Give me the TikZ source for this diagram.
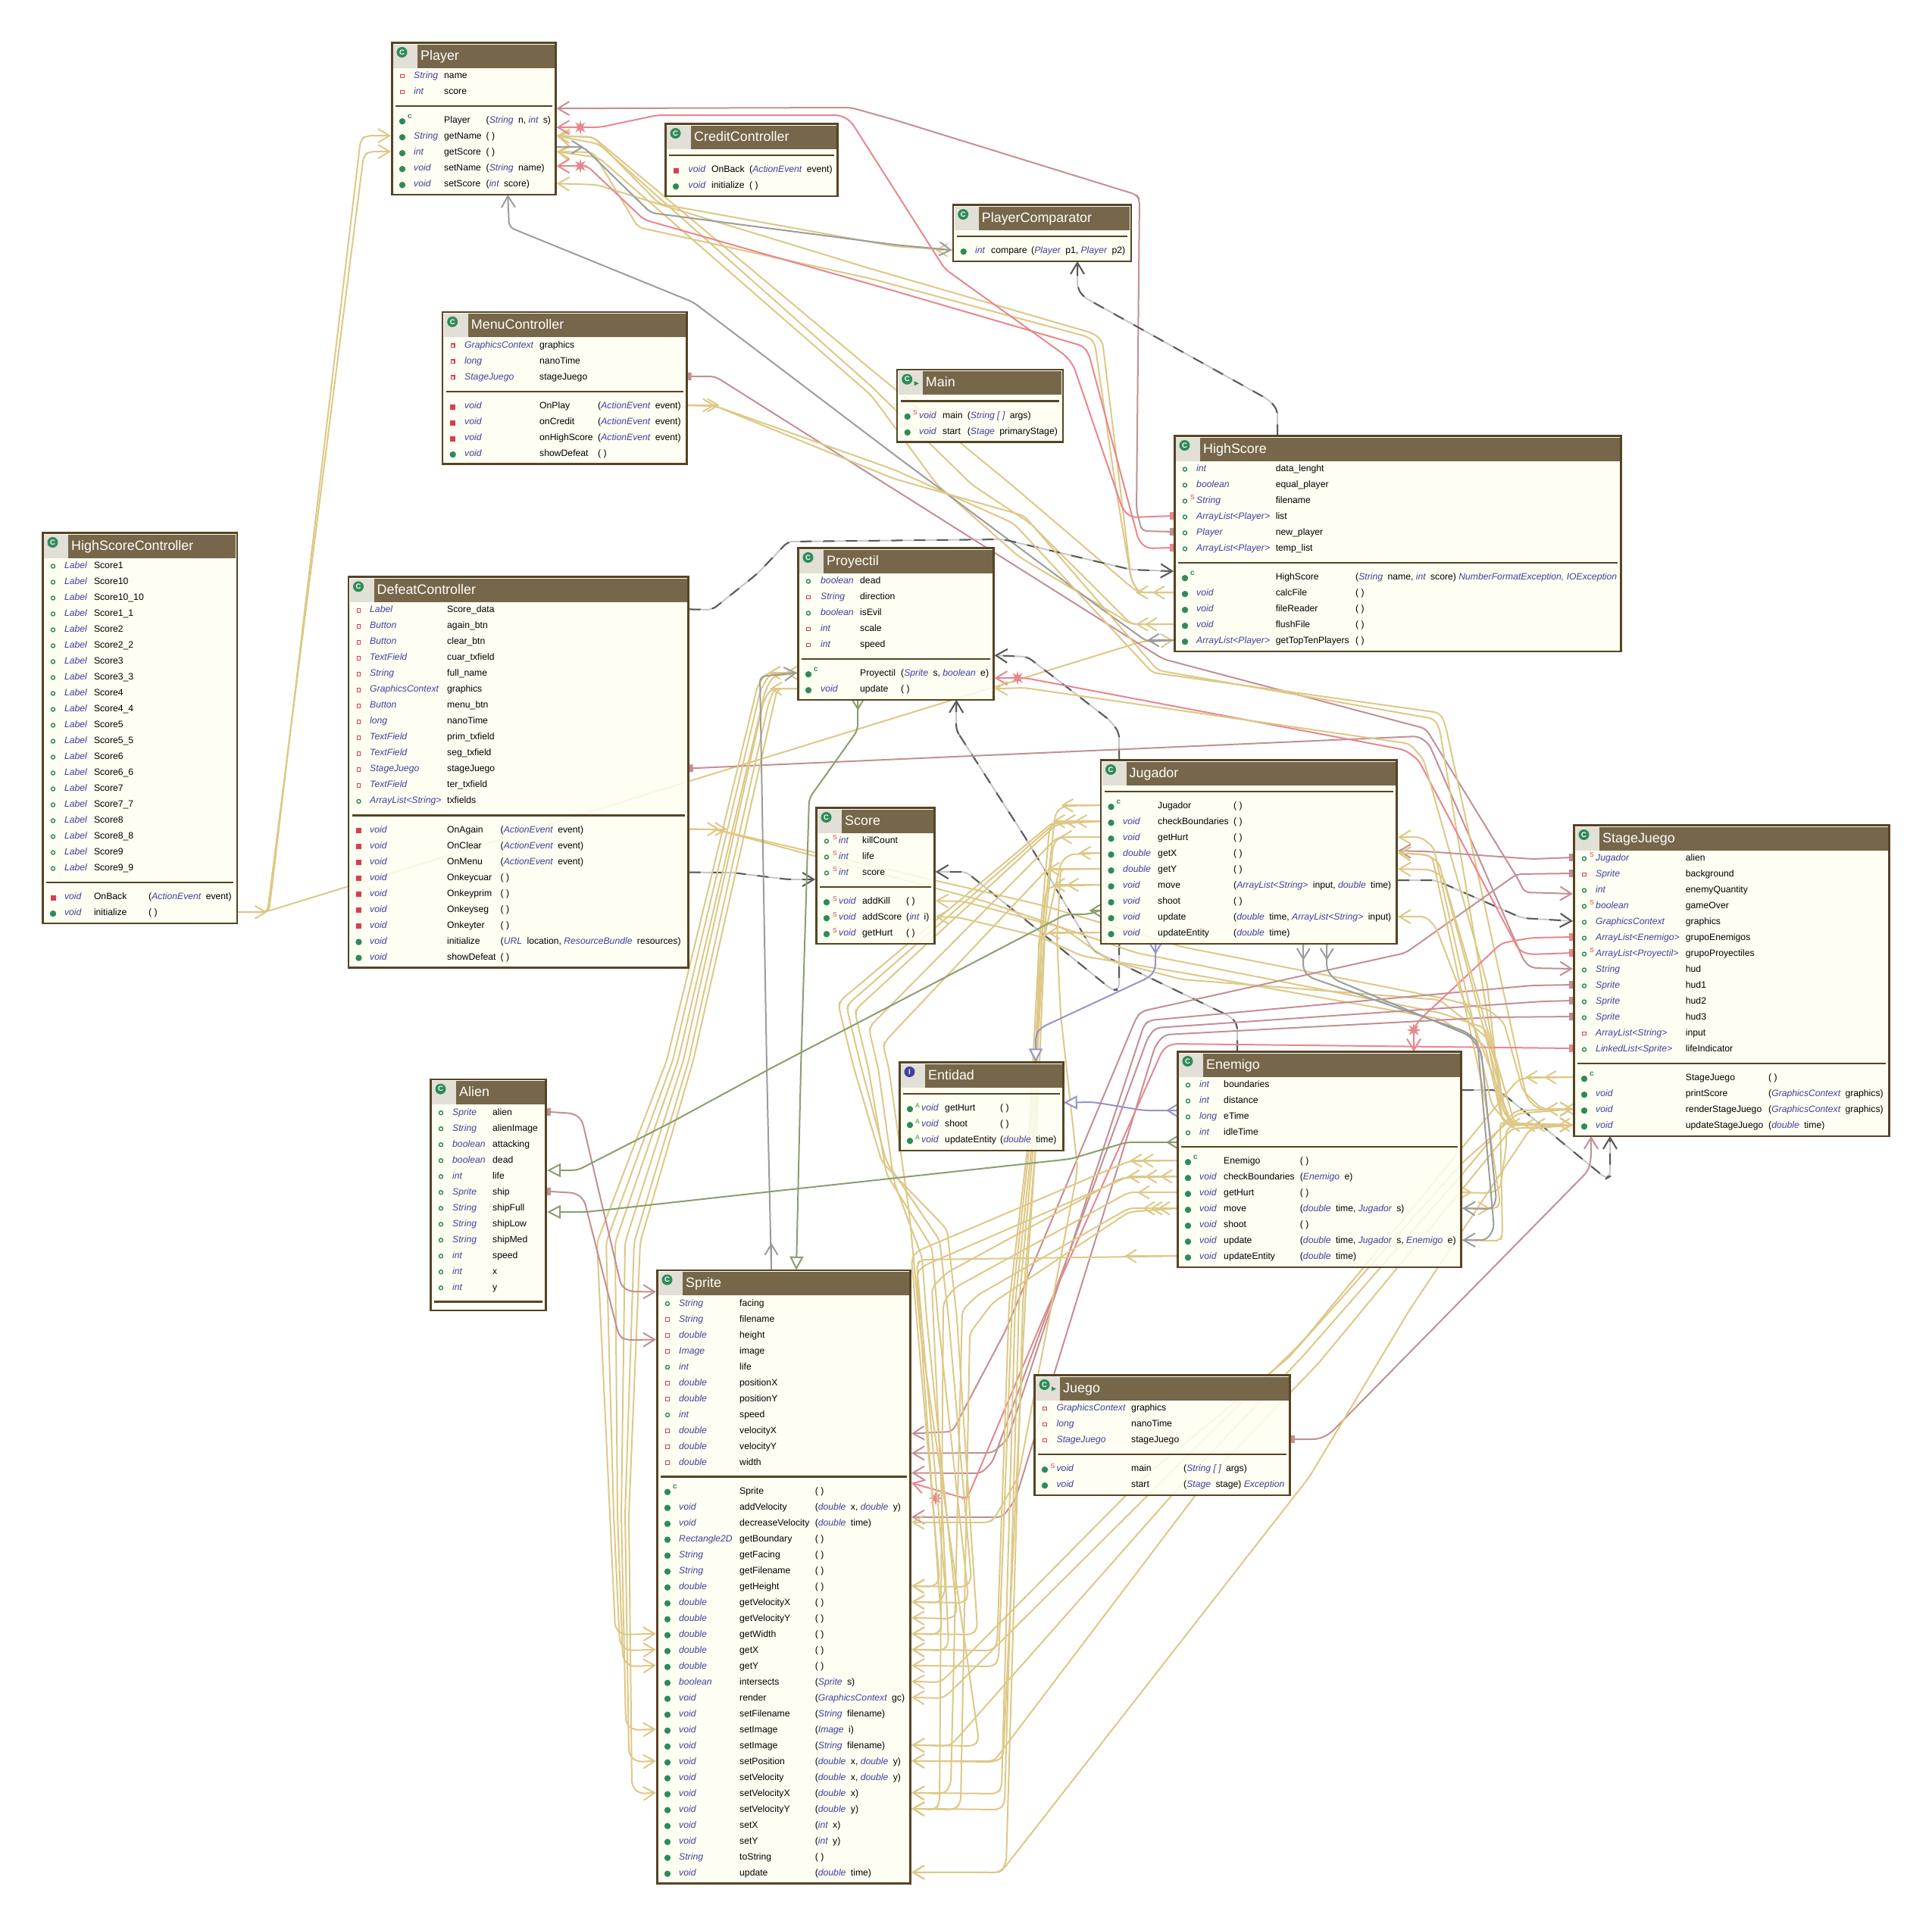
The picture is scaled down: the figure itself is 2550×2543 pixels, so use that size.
\documentclass[tikz,border=0pt]{standalone}
\usepackage{fontspec}
\setmainfont{Liberation Sans}
\usetikzlibrary{arrows.meta}
\usetikzlibrary{shapes.geometric}
\definecolor{boxline}{RGB}{85,68,36}
\definecolor{boxfill}{RGB}{254,254,240}
\definecolor{headfill}{RGB}{118,102,74}
\definecolor{iconfill}{RGB}{226,223,215}
\definecolor{typeblue}{RGB}{64,64,160}
\definecolor{pubgreen}{RGB}{46,139,87}
\definecolor{privred}{RGB}{220,60,80}
\definecolor{calline}{RGB}{221,200,134}
\definecolor{roseline}{RGB}{196,143,148}
\definecolor{redline}{RGB}{232,135,141}
\definecolor{greyline}{RGB}{156,156,156}
\definecolor{greenline}{RGB}{138,158,110}
\definecolor{blueline}{RGB}{148,148,204}
\pgfdeclarelayer{under}
\pgfsetlayers{under,main}
\tikzset{
 classbox/.style={draw=boxline,line width=2.6pt,fill=boxfill,fill opacity=.88,outer sep=0pt,inner sep=0pt,anchor=north west},
 memtext/.style={font=\fontsize{12.2}{14}\selectfont,anchor=base west,inner sep=0pt},
 marktext/.style={font=\fontsize{8.5}{9}\selectfont,inner sep=0pt},
 titletext/.style={font=\fontsize{17.9}{20}\selectfont,text=white,anchor=base west,inner sep=0pt},
 conn/.style={line width=2pt,rounded corners=7pt,-{Straight Barb[length=15pt,width=18pt]}},
 call/.style={conn,draw=calline},
 stubtip/.style={line width=2pt,-{Straight Barb[length=14pt,width=17pt]}},
 creat/.style={conn,draw=greyline},
 field/.style={conn,draw=roseline,{Square[length=5pt,width=10pt]}-{Straight Barb[length=15pt,width=18pt]}},
 fieldred/.style={conn,draw=redline,{Square[length=5pt,width=10pt]}-{Straight Barb[length=15pt,width=18pt]}},
 newobj/.style={conn,draw=black!22,postaction={draw=black!65,dash pattern=on 15pt off 15pt}},
 extend/.style={line width=2pt,rounded corners=7pt,draw=greenline,-{Triangle[fill=white,length=18pt,width=18pt]}},
 realize/.style={line width=2pt,rounded corners=7pt,draw=blueline,-{Triangle[fill=white,length=18pt,width=18pt]}},
 hitstar/.style={star,star points=8,star point ratio=2.4,fill=redline,inner sep=0pt,minimum size=19pt},
}
\newcommand\ty[1]{{\itshape\color{typeblue}#1}}
\newcommand\ar[1]{{\itshape\color{typeblue}#1}\ \kern3pt}
\newcommand\visx[3]{\draw[privred,line width=1.3pt] (#1-2.3,#2-0.8) rectangle ++(4.6,4.6);}
\newcommand\viso[3]{\draw[pubgreen,line width=1.4pt] (#1,#2+1.5) circle (2.5pt);}
\newcommand\viss[3]{\viso{#1}{#2}{#3}\node[marktext,text=privred] at (#3-5,#2-3) {S};}
\newcommand\visp[3]{\fill[pubgreen] (#1,#2+2) circle (4.2pt);}
\newcommand\visq[3]{\fill[privred] (#1-3.5,#2-1.5) rectangle ++(7,7);}
\newcommand\visS[3]{\visp{#1}{#2}{#3}\node[marktext,text=privred] at (#3-5,#2-3) {S};}
\newcommand\visA[3]{\visp{#1}{#2}{#3}\node[marktext,text=pubgreen] at (#3-5,#2-3) {A};}
\newcommand\visc[3]{\visp{#1}{#2}{#3}\node[marktext,text=pubgreen,font=\fontsize{10}{10}\selectfont\bfseries] at (#1+10,#2-4.5) {c};}
% [kind]{name}{left}{top}{right}{attributes}{methods}{title}
\newcommand\classbox[8][C]{%
 \def\clA{#6}\def\clM{#7}\def\clL{#3}\def\clR{#5}%
 \pgfmathsetmacro\clAy{#4+44}%
 \pgfmathsetmacro\clSep{#6>0 ? #4+44+21*(#6-1)+20 : #4+43}%
 \pgfmathsetmacro\clMy{\clSep+18.2}%
 \pgfmathsetmacro\clB{#7>0 ? \clMy+21*(#7-1)+16 : \clSep+12.5}%
 \pgfmathsetmacro\clW{#5-#3-2.6}\pgfmathsetmacro\clH{\clB-#4-2.6}%
 \node[classbox,minimum width=\clW pt,minimum height=\clH pt] (#2) at (#3+1.3,#4+1.3) {};
 \fill[headfill] (#3+3,#4+3.5) rectangle (#5-3,#4+34.5);
 \fill[iconfill] (#3+3,#4+3.5) rectangle (#3+35,#4+34.5);
 \if#1I\def\clIc{I}\fill[typeblue] (#3+14.5,#4+14) circle (7pt);\else\def\clIc{C}\fill[pubgreen] (#3+14.5,#4+14) circle (7pt);\fi
 \node[text=white,inner sep=0pt,font=\fontsize{9.5}{10}\selectfont\bfseries] (#2-icon) at (#3+14.5,#4+14) {\clIc};
 \if#1R\fill[pubgreen] (#3+24,#4+16.5) -- ++(6,3) -- ++(-6,3) -- cycle;\fi
 \node[titletext] (#2-title) at (#3+39,#4+24) {#8};
 \draw[boxline,line width=2.5pt] (#3+6,\clSep) -- (#5-6,\clSep);
}
% {name}{type x}{name x}{argument x}{attributes}{methods}
\newcommand\members[6]{%
 \pgfmathsetmacro\clIx{\clL+15}%
 \ifnum\clA>0
 \foreach \rowv/\rowt/\rown [count=\i] in {#5} {
  \pgfmathsetmacro\rowy{\clAy+21*(\i-1)}
  \coordinate (#1-a\i-w) at (\clL,\rowy);
  \coordinate (#1-a\i-e) at (\clR,\rowy);
  \csname vis\rowv\endcsname{\clIx}{\rowy}{#2}
  \node[memtext] (#1-a\i-t) at (#2,\rowy+4.5) {\ty{\rowt}};
  \node[memtext] (#1-a\i-n) at (#3,\rowy+4.5) {\rown};
 }
 \fi
 \ifnum\clM>0
 \foreach \rowv/\rowt/\rown/\rowa [count=\i] in {#6} {
  \pgfmathsetmacro\rowy{\clMy+21*(\i-1)}
  \coordinate (#1-m\i-w) at (\clL,\rowy);
  \coordinate (#1-m\i-e) at (\clR,\rowy);
  \csname vis\rowv\endcsname{\clIx}{\rowy}{#2}
  \node[memtext] (#1-m\i-t) at (#2,\rowy+4.5) {\ty{\rowt}};
  \node[memtext] (#1-m\i-n) at (#3,\rowy+4.5) {\rown};
  \node[memtext] (#1-m\i-p) at (#4,\rowy+4.5) {\rowa};
 }
 \fi
}
\begin{document}
\begin{tikzpicture}[x=1pt,y=-1pt]
\useasboundingbox (0,0) rectangle (2550,2543);

\classbox{Player}{516}{55}{734.5}{2}{5}{Player}
\members{Player}{546}{586}{641.5}{x/String/name,x/int/score}
{c/{}/Player/{(\ar{String}n, \ar{int}s)},p/String/getName/( ),p/int/getScore/( ),p/void/setName/{(\ar{String}name)},p/void/setScore/{(\ar{int}score)}}

\classbox{CreditController}{877}{162}{1107}{0}{2}{CreditController}
\members{CreditController}{908.5}{939}{989}{}
{q/void/OnBack/{(\ar{ActionEvent}event)},p/void/initialize/( )}

\classbox{PlayerComparator}{1256.7}{269}{1494.3}{0}{1}{PlayerComparator}
\members{PlayerComparator}{1287}{1308}{1361}{}
{p/int/compare/{(\ar{Player}p1, \ar{Player}p2)}}

\classbox{MenuController}{582.7}{410.8}{907.7}{3}{4}{MenuController}
\members{MenuController}{613}{712}{789}{x/GraphicsContext/graphics,x/long/nanoTime,x/StageJuego/stageJuego}
{q/void/OnPlay/{(\ar{ActionEvent}event)},q/void/onCredit/{(\ar{ActionEvent}event)},q/void/onHighScore/{(\ar{ActionEvent}event)},p/void/showDefeat/( )}

\classbox[R]{Main}{1182.7}{486.7}{1404.4}{0}{2}{Main}
\members{Main}{1213}{1244}{1276.7}{}
{S/void/main/{(\ar{String [ ]}args)},p/void/start/{(\ar{Stage}primaryStage)}}

\classbox{HighScore}{1549}{574}{2141}{6}{5}{HighScore}
\members{HighScore}{1579}{1683.6}{1789}{o/int/data\_lenght,o/boolean/equal\_player,s/String/filename,o/ArrayList<Player>/list,o/Player/new\_player,o/ArrayList<Player>/temp\_list}
{c/{}/HighScore/{(\ar{String}name, \ar{int}score) \ty{NumberFormatException, IOException}},p/void/calcFile/( ),p/void/fileReader/( ),p/void/flushFile/( ),p/ArrayList<Player>/getTopTenPlayers/( )}

\classbox{HighScoreController}{55}{702}{314.4}{20}{2}{HighScoreController}
\members{HighScoreController}{84.8}{123.8}{196}{o/Label/Score1,o/Label/Score10,o/Label/Score10\_10,o/Label/Score1\_1,o/Label/Score2,o/Label/Score2\_2,o/Label/Score3,o/Label/Score3\_3,o/Label/Score4,o/Label/Score4\_4,o/Label/Score5,o/Label/Score5\_5,o/Label/Score6,o/Label/Score6\_6,o/Label/Score7,o/Label/Score7\_7,o/Label/Score8,o/Label/Score8\_8,o/Label/Score9,o/Label/Score9\_9}
{q/void/OnBack/{(\ar{ActionEvent}event)},p/void/initialize/( )}

\classbox{DefeatController}{458.5}{760.4}{909.7}{13}{9}{DefeatController}
\members{DefeatController}{488}{590}{660.5}{x/Label/Score\_data,x/Button/again\_btn,x/Button/clear\_btn,x/TextField/cuar\_txfield,x/String/full\_name,x/GraphicsContext/graphics,x/Button/menu\_btn,x/long/nanoTime,x/TextField/prim\_txfield,x/TextField/seg\_txfield,x/StageJuego/stageJuego,x/TextField/ter\_txfield,o/ArrayList<String>/txfields}
{q/void/OnAgain/{(\ar{ActionEvent}event)},q/void/OnClear/{(\ar{ActionEvent}event)},q/void/OnMenu/{(\ar{ActionEvent}event)},q/void/Onkeycuar/( ),q/void/Onkeyprim/( ),q/void/Onkeyseg/( ),q/void/Onkeyter/( ),p/void/initialize/{(\ar{URL}location, \ar{ResourceBundle}resources)},p/void/showDefeat/( )}

\classbox{Proyectil}{1052}{722}{1312.6}{5}{2}{Proyectil}
\members{Proyectil}{1083}{1135}{1189}{o/boolean/dead,x/String/direction,o/boolean/isEvil,x/int/scale,x/int/speed}
{c/{}/Proyectil/{(\ar{Sprite}s, \ar{boolean}e)},p/void/update/( )}

\classbox{Score}{1076}{1065}{1234.7}{3}{3}{Score}
\members{Score}{1107}{1138}{1196}{s/int/killCount,s/int/life,s/int/score}
{S/void/addKill/( ),S/void/addScore/{(\ar{int}i)},S/void/getHurt/( )}

\classbox{Jugador}{1451.5}{1002}{1845}{0}{9}{Jugador}
\members{Jugador}{1482}{1528}{1628}{}
{c/{}/Jugador/( ),p/void/checkBoundaries/( ),p/void/getHurt/( ),p/double/getX/( ),p/double/getY/( ),p/void/move/{(\ar{ArrayList<String>}input, \ar{double}time)},p/void/shoot/( ),p/void/update/{(\ar{double}time, \ar{ArrayList<String>}input)},p/void/updateEntity/{(\ar{double}time)}}

\classbox{StageJuego}{2076}{1088}{2495}{13}{4}{StageJuego}
\members{StageJuego}{2106}{2224.7}{2334}{s/Jugador/alien,x/Sprite/background,o/int/enemyQuantity,s/boolean/gameOver,o/GraphicsContext/graphics,o/ArrayList<Enemigo>/grupoEnemigos,s/ArrayList<Proyectil>/grupoProyectiles,o/String/hud,o/Sprite/hud1,o/Sprite/hud2,o/Sprite/hud3,x/ArrayList<String>/input,o/LinkedList<Sprite>/lifeIndicator}
{c/{}/StageJuego/( ),p/void/printScore/{(\ar{GraphicsContext}graphics)},p/void/renderStageJuego/{(\ar{GraphicsContext}graphics)},p/void/updateStageJuego/{(\ar{double}time)}}

\classbox{Enemigo}{1553}{1387}{1930}{4}{7}{Enemigo}
\members{Enemigo}{1583}{1615}{1715.7}{o/int/boundaries,o/int/distance,o/long/eTime,o/int/idleTime}
{c/{}/Enemigo/( ),p/void/checkBoundaries/{(\ar{Enemigo}e)},p/void/getHurt/( ),p/void/move/{(\ar{double}time, \ar{Jugador}s)},p/void/shoot/( ),p/void/update/{(\ar{double}time, \ar{Jugador}s, \ar{Enemigo}e)},p/void/updateEntity/{(\ar{double}time)}}

\classbox[I]{Entidad}{1186}{1401}{1405}{0}{3}{Entidad}
\members{Entidad}{1216}{1247}{1320}{}
{A/void/getHurt/( ),A/void/shoot/( ),A/void/updateEntity/{(\ar{double}time)}}

\classbox{Alien}{567}{1423.7}{722}{12}{0}{Alien}
\members{Alien}{597}{650}{700}{o/Sprite/alien,o/String/alienImage,o/boolean/attacking,o/boolean/dead,o/int/life,o/Sprite/ship,o/String/shipFull,o/String/shipLow,o/String/shipMed,o/int/speed,o/int/x,o/int/y}{}

\classbox{Sprite}{866}{1675.5}{1203}{11}{25}{Sprite}
\members{Sprite}{896}{976}{1075.6}{o/String/facing,x/String/filename,x/double/height,x/Image/image,o/int/life,x/double/positionX,x/double/positionY,o/int/speed,x/double/velocityX,x/double/velocityY,x/double/width}
{c/{}/Sprite/( ),p/void/addVelocity/{(\ar{double}x, \ar{double}y)},p/void/decreaseVelocity/{(\ar{double}time)},p/Rectangle2D/getBoundary/( ),p/String/getFacing/( ),p/String/getFilename/( ),p/double/getHeight/( ),p/double/getVelocityX/( ),p/double/getVelocityY/( ),p/double/getWidth/( ),p/double/getX/( ),p/double/getY/( ),p/boolean/intersects/{(\ar{Sprite}s)},p/void/render/{(\ar{GraphicsContext}gc)},p/void/setFilename/{(\ar{String}filename)},p/void/setImage/{(\ar{Image}i)},p/void/setImage/{(\ar{String}filename)},p/void/setPosition/{(\ar{double}x, \ar{double}y)},p/void/setVelocity/{(\ar{double}x, \ar{double}y)},p/void/setVelocityX/{(\ar{double}x)},p/void/setVelocityY/{(\ar{double}y)},p/void/setX/{(\ar{int}x)},p/void/setY/{(\ar{int}y)},p/String/toString/( ),p/void/update/{(\ar{double}time)}}

\classbox[R]{Juego}{1364}{1814}{1704}{3}{2}{Juego}
\members{Juego}{1394.4}{1493}{1562}{x/GraphicsContext/graphics,x/long/nanoTime,x/StageJuego/stageJuego}
{S/void/main/{(\ar{String [ ]}args)},p/void/start/{(\ar{Stage}stage) \ty{Exception}}}

\begin{pgfonlayer}{under}
% arrows next to the calling method
\foreach \c/\d in {HighScoreController-m2-e/38,DefeatController-m1-e/40,DefeatController-m1-e/50,MenuController-m1-e/36,MenuController-m1-e/42,
 HighScore-m2-w/-50,HighScore-m2-w/-28,HighScore-m4-w/-50,HighScore-m4-w/-38,
 Jugador-m1-w/-51,Jugador-m2-w/-62,Jugador-m2-w/-48,Jugador-m2-w/-33,Jugador-m3-w/-53,Jugador-m4-w/-28,Jugador-m5-w/-69,Jugador-m6-w/-62,Jugador-m6-w/-44,Jugador-m9-w/-69,
 Enemigo-m1-w/-62,Enemigo-m1-w/-47,Enemigo-m2-w/-65,Enemigo-m2-w/-42,Enemigo-m2-w/-22,Enemigo-m3-w/-52,Enemigo-m4-w/-45,Enemigo-m4-w/-35,Enemigo-m4-w/-25,Enemigo-m7-w/-69,
 Enemigo-m3-e/13,Enemigo-m4-e/37,
 StageJuego-m1-w/-63,StageJuego-m1-w/-38,StageJuego-m3-w/-36,StageJuego-m3-w/-13,StageJuego-m4-w/-86,StageJuego-m4-w/-66,StageJuego-m4-w/-53,StageJuego-m4-w/-20,
 Proyectil-m1-w/-38,Proyectil-m1-w/-16,Proyectil-m2-w/-36}
  \draw[stubtip,draw=calline] (\c) -- ++(\d,0);

% HighScoreController
\draw[call] (HighScoreController-m2-e) -- (355,1204) -- (476,184) -- (484,179) -- (Player-m2-w);
\draw[call] (HighScoreController-m2-e) -- (353,1204) -- (480,205) -- (488,200) -- (Player-m3-w);
\draw[call] (HighScoreController-m2-e) -- (350,1204) -- (1507,847) -- (HighScore-m5-w);

% HighScore and PlayerComparator to Player
\draw[call] (HighScore-m2-w) -- (1503,782) -- (1493,765) -- (1478,640) -- (1455,450) -- (1443,440) -- (1150,355) -- (868,269) -- (788,244) -- (Player-m5-e);
\draw[call] (HighScore-m2-w) -- (1503,782) -- (1493,765) -- (1472,640) -- (1445,453) -- (1437,445) -- (1150,368) -- (842,300) -- (783,201) -- (Player-m3-e);
\draw[call] (HighScore-m2-w) -- (1503,782) -- (1493,775) -- (1335,640) -- (1150,488) -- (783,181) -- (Player-m2-e);
\draw[call] (HighScore-m4-w) -- (1493,824) -- (1360,691) -- (1283,640) -- (1150,510) -- (790,190) -- (Player-m2-e);
\draw[call] (HighScore-m4-w) -- (1493,824) -- (1345,735) -- (1237,640) -- (1150,522) -- (790,208) -- (Player-m3-e);
\draw[call] (PlayerComparator-m1-w) -- (1180,325) -- (870,269) -- (783,181) -- (Player-m2-e);
\draw[stubtip,draw=calline] (PlayerComparator-m1-w) -- ++(-22,0);
\draw[creat] ([yshift=6pt]Player-m3-e) -- (770,194) -- (859,281) -- (1180,323) -- (PlayerComparator-m1-w);
\draw[stubtip,draw=greyline] ([yshift=6pt]Player-m3-e) -- ++(36,0);
\draw[creat] (HighScore-m5-w) -- (1514,847) -- (1450,801) -- (1180,600) -- (915,399) -- (672,300) -- ([xshift=45pt]Player.south);
\draw[stubtip,draw=greyline] (HighScore-m5-w) -- ++(-35,0);
\draw[field] (HighScore-a5-w) -- (1507,701) -- (1500,673) -- (1504,263) -- (1500,257) -- (1180,158) -- (1123,142) -- ([yshift=15pt]Player-m1-e);
\draw[fieldred] (HighScore-a4-w) -- (1493,683) -- (1482,673) -- (1417,483) -- (1407,470) -- (1247,355) -- (1123,160) -- (1109,152) -- (868,152) -- (792,168) -- ([yshift=-10pt]Player-m1-e);
\draw[fieldred] (HighScore-a6-w) -- (1514,724) -- (1503,714) -- (1437,467) -- (1430,457) -- (1180,384) -- (850,290) -- (775,219) -- ([yshift=2pt]Player-m4-e);
\node[hitstar] (starlist) at (766,168) {};
\node[hitstar] (startemp) at (766,219) {};

% dashed object creation
\draw[newobj] ([xshift=-159pt]HighScore.north) -- (1686,541) -- (1675,528) -- (1430,392) -- (1422,380) -- ([xshift=46.5pt]PlayerComparator.south);
\draw[newobj] (DefeatController-a1-e) -- (940,805) -- (1000,757) -- (1040,715) -- (1324,712) -- (1493,752) -- ([yshift=7pt]HighScore-m1-w);
\draw[newobj] ([yshift=6pt]DefeatController-m4-e) -- (967,1152) -- (1040,1161) -- ([yshift=-10pt]Score-a3-w);
\draw[newobj] ([xshift=-171pt]Jugador.north) -- (1477,967) -- (1465,951) -- (1356,867) -- ([yshift=23pt]Proyectil-m1-e);
\draw[newobj] ([xshift=-108.5pt]Enemigo.north) -- (1633,1352) -- (1624,1342) -- (1443,1255) -- (1354,1107) -- (1266,970) -- (1262,964) -- ([xshift=80pt]Proyectil.south);
\draw[newobj] ([xshift=-171pt]Jugador.south) -- (1477,1307) -- (1468,1307) -- (1275,1151) -- (Score-a3-e);
\draw[newobj] ([yshift=6pt]Jugador-m6-e) -- (1895,1162) -- (2009,1212) -- (StageJuego-a5-w);
\draw[newobj] ([yshift=-8pt]Enemigo-a1-e) -- (1975,1439) -- (1985,1445) -- (2120,1556) -- (2125,1553) -- ([xshift=-160.5pt]StageJuego.south);

% Menu and Defeat fields and calls
\draw[field] (MenuController-a3-e) -- (944,497) -- (1535,870) -- (1882,962) -- (2005,1163) -- (2012,1178) -- ([yshift=-6pt]StageJuego-a3-w);
\draw[field] (DefeatController-a11-e) -- (1872,972) -- (1886,982) -- (2012,1270) -- (2022,1278) -- (StageJuego-a8-w);
\draw[call] (MenuController-m1-e) -- (944,536) -- (1180,620) -- (1338,691) -- (1521,888) -- (1900,941) -- (1907,954) -- (2015,1450) -- (2030,1464) -- (StageJuego-m3-w);
\draw[call] (MenuController-m1-e) -- (944,536) -- (1180,632) -- (1352,681) -- (1528,885) -- (1893,949) -- (1900,962) -- (1985,1470) -- (2000,1484) -- (StageJuego-m4-w);
\draw[call] (DefeatController-m1-e) -- (944,1095) -- (1375,1195) -- (1560,1250) -- (1900,1317) -- (1965,1333) -- (1985,1350) -- (2010,1440) -- (2035,1464) -- (StageJuego-m3-w);
\draw[call] (DefeatController-m1-e) -- (944,1095) -- (1300,1190) -- (1500,1258) -- (1900,1337) -- (1960,1357) -- (1978,1417) -- (1985,1470) -- (2000,1484) -- (StageJuego-m4-w);
\draw[call] (StageJuego-m4-w) -- (1997,1485) -- (1983,1480) -- (1963,1370) -- (1900,1320) -- (1560,1293) -- (1464,1268) -- (1403,1225) -- (1271,1190) -- (Score-m1-e);
\draw[call] (StageJuego-m4-w) -- (1997,1485) -- (1983,1480) -- (1960,1380) -- (1900,1345) -- (1560,1284) -- (1428,1262) -- (1371,1236) -- (1264,1211) -- (Score-m2-e);

% StageJuego fields
\draw[fieldred] (StageJuego-a7-w) -- (2019,1260) -- (2005,1255) -- (1872,1003) -- (1854,990) -- (1353,895) -- ([yshift=-7pt]Proyectil-m1-e);
\node[hitstar] (starproy) at (1343,895) {};
\draw[call] (StageJuego-m4-w) -- (1997,1485) -- (1983,1480) -- (1963,1300) -- (1879,1003) -- (1861,982) -- (1352,908) -- (Proyectil-m2-e);
\draw[field] (StageJuego-a1-w) -- (2022,1134) -- (1882,1124) -- ([yshift=3pt]Jugador-m4-e);
\draw[fieldred] (StageJuego-a6-w) -- (2022,1238) -- (1982,1245) -- (1875,1345) -- (1866,1357) -- ([xshift=124.5pt]Enemigo.north);
\node[hitstar] (starenem) at (1866,1360) {};
\draw[field] (StageJuego-a2-w) -- (2002,1154) -- (1855,1258) -- (1507,1335) -- (1500,1343) -- (1327,1757) -- (1287,1833) -- (1257,1890) -- ([yshift=-5pt]Sprite-a9-e);
\draw[field] (StageJuego-a9-w) -- (2022,1301) -- (1517,1347) -- (1510,1353) -- (1330,1900) -- (1310,1918) -- ([yshift=-10pt]Sprite-a10-e);
\draw[field] (StageJuego-a10-w) -- (2036,1322) -- (1525,1357) -- (1515,1370) -- (1310,1930) -- (1295,1945) -- ([yshift=-15pt]Sprite-a11-e);
\draw[field] (StageJuego-a11-w) -- (1969,1343) -- (1537,1366) -- (1525,1380) -- (1340,1980) -- (1323,2003) -- ([yshift=7pt]Sprite-m3-e);
\draw[fieldred] (StageJuego-a13-w) -- (1547,1378) -- (1535,1385) -- (1380,1733) -- (1277,1977) -- (1273,1978) -- ([yshift=10pt]Sprite-m1-e);
\node[hitstar] (starlife) at (1235,1978) {};
\draw[field] (Juego-a3-e) -- (1740,1900) -- (1755,1893) -- (2096,1546) -- (2100,1530) -- ([xshift=-185.5pt]StageJuego.south);

% Jugador to Sprite and StageJuego to Jugador
\draw[call] (StageJuego-m4-w) -- (1992,1485) -- (1969,1459) -- (1892,1118) -- (1875,1105) -- (Jugador-m3-e);
\draw[call] (StageJuego-m4-w) -- (1992,1483) -- (1899,1138) -- (1882,1128) -- (Jugador-m4-e);
\draw[call] (StageJuego-m4-w) -- (1999,1483) -- (1905,1158) -- (1888,1148) -- (Jugador-m5-e);
\draw[call] (StageJuego-m4-w) -- (1995,1483) -- (1895,1224) -- (1882,1210) -- (Jugador-m8-e);
\draw[call] (Jugador-m2-w) -- (1389,1086) -- (1109,1321) -- (1107,1329) -- (1127,1410) -- (1164,1534) -- (1250,1623) -- (1263,1740) -- (1290,2150) -- (1283,2158) -- (Sprite-m10-e);
\draw[call] (Jugador-m2-w) -- (1393,1086) -- (1120,1325) -- (1118,1332) -- (1137,1410) -- (1170,1534) -- (1240,1637) -- (1252,1740) -- (1282,2085) -- (1275,2095) -- (Sprite-m7-e);
\draw[call] (Jugador-m2-w) -- (1395,1088) -- (1130,1332) -- (1129,1339) -- (1146,1410) -- (1170,1550) -- (1230,1647) -- (1238,1740) -- (1278,2108) -- (1272,2116) -- (Sprite-m8-e);
\draw[call] (Jugador-m3-w) -- (1396,1105) -- (1148,1355) -- (1148,1364) -- (1159,1410) -- (1180,1560) -- (1217,1660) -- (1223,1740) -- (1263,2130) -- (1255,2137) -- (Sprite-m9-e);
\draw[call] (Jugador-m5-w) -- (1382,1148) -- (1168,1375) -- (1166,1382) -- (1173,1410) -- (1200,1600) -- (1215,1760) -- (1292,2298) -- (1285,2305) -- (Sprite-m17-e);
\draw[call] (Jugador-m1-w) -- (1404,1064) -- (1393,1073) -- (1375,1235) -- (1360,1500) -- (1336,1720) -- (1318,2190) -- (1312,2200) -- (Sprite-m12-e);
\draw[call] (Jugador-m3-w) -- (1398,1105) -- (1390,1115) -- (1378,1235) -- (1363,1500) -- (1340,1720) -- (1322,2360) -- (1316,2368) -- (Sprite-m20-e);
\draw[call] (Jugador-m6-w) -- (1387,1170) -- (1380,1177) -- (1375,1235) -- (1365,1500) -- (1345,1720) -- (1326,2380) -- (1320,2389) -- (Sprite-m21-e);
\draw[call] (Jugador-m9-w) -- (1380,1232) -- (1371,1240) -- (1368,1500) -- (1350,1720) -- (1328,2460) -- (1320,2472) -- (Sprite-m25-e);
\draw[call] (Jugador-m2-w) -- (1392,1084) -- (1385,1095) -- (1372,1240) -- (1358,1500) -- (1332,1720) -- (1316,2170) -- (1310,2179) -- (Sprite-m11-e);
\draw[call] (Jugador-m4-w) -- (1411,1128) -- (1400,1139) -- (1379,1235) -- (1368,1500) -- (1353,1720) -- (1324,2320) -- (1312,2326) -- (Sprite-m18-e);
\draw[call] (Jugador-m5-w) -- (1400,1147) -- (1395,1240) -- (1400,1340) -- (1422,1540) -- (1420,1557) -- (1344,1950) -- (1312,2005) -- (1305,2010) -- (Sprite-m3-e);

% Enemigo to Sprite
\draw[call] (Enemigo-m1-w) -- (1490,1533) -- (1210,1652) -- (1203,1662) -- (1240,2086) -- (1232,2095) -- (Sprite-m7-e);
\draw[call] (Enemigo-m2-w) -- (1490,1553) -- (1217,1672) -- (1210,1682) -- (1243,2150) -- (1235,2158) -- (Sprite-m10-e);
\draw[call] (Enemigo-m2-w) -- (1480,1555) -- (1250,1680) -- (1230,1700) -- (1252,2170) -- (1245,2179) -- (Sprite-m11-e);
\draw[call] (Enemigo-m3-w) -- (1490,1574) -- (1260,1700) -- (1245,1720) -- (1240,2380) -- (1235,2389) -- (Sprite-m21-e);
\draw[call] (Enemigo-m4-w) -- (1490,1595) -- (1290,1710) -- (1270,1730) -- (1255,2355) -- (1247,2368) -- (Sprite-m20-e);
\draw[call] (Enemigo-m4-w) -- (1490,1600) -- (1310,1720) -- (1280,1760) -- (1268,2380) -- (1260,2389) -- (Sprite-m21-e);
\draw[call] (Enemigo-m7-w) -- (1215,1663) -- (1210,1670) -- (1248,2100) -- (1240,2116) -- (Sprite-m8-e);

% StageJuego to Sprite
\draw[call] (StageJuego-m1-w) -- (2013,1423) -- (2003,1426) -- (1930,1515) -- (1720,1770) -- (1539,1950) -- (1252,2236) -- (1243,2242) -- (Sprite-m14-e);
\draw[call] (StageJuego-m3-w) -- (2000,1466) -- (1930,1550) -- (1720,1790) -- (1568,1950) -- (1257,2302) -- (1250,2305) -- (Sprite-m17-e);
\draw[call] (StageJuego-m4-w) -- (1995,1490) -- (1930,1570) -- (1740,1800) -- (1596,1950) -- (1312,2325) -- (Sprite-m18-e);
\draw[call] (StageJuego-m3-w) -- (2003,1470) -- (1930,1535) -- (1700,1793) -- (1510,1950) -- (1249,2214) -- (1240,2221) -- (Sprite-m13-e);
\draw[call] (StageJuego-m4-w) -- (2020,1490) -- (1860,1730) -- (1728,1950) -- (1324,2468) -- (1318,2472) -- (Sprite-m25-e);
\draw[call] (Enemigo-m3-e) -- (1965,1575) -- (1980,1570) -- (1988,1513) -- (1988,1490) -- (2000,1485) -- (StageJuego-m4-w);
\draw[call] (Enemigo-m4-e) -- (1973,1596) -- (1980,1590) -- (1960,1450) -- (1890,1130) -- (1875,1128) -- (Jugador-m4-e);
\draw[call] (Enemigo-m6-e) -- (1970,1638) -- (1980,1638) -- (1983,1630) -- (1980,1480) -- (1992,1485) -- (StageJuego-m4-w);

% Jugador to Enemigo
\draw[creat] ([xshift=72pt]Jugador.south) -- (1720,1280) -- (1728,1290) -- (1935,1362) -- (1950,1375) -- (1972,1622) -- (1962,1637) -- (Enemigo-m6-e);
\draw[creat] ([xshift=103pt]Jugador.south) -- (1751,1280) -- (1761,1293) -- (1939,1367) -- (1955,1388) -- (1975,1585) -- (1969,1596) -- (Enemigo-m4-e);
\draw[stubtip,draw=greyline] ([xshift=72pt]Jugador.south) -- ++(0,22);
\draw[stubtip,draw=greyline] ([xshift=103pt]Jugador.south) -- ++(0,22);

% Proyectil and Sprite
\draw[call] (Proyectil-m1-w) -- (1012,888) -- (1000,905) -- (880,1400) -- (788,1640) -- (805,2000) -- (812,2150) -- (822,2158) -- (Sprite-m10-w);
\draw[call] (Proyectil-m1-w) -- (1016,890) -- (1004,910) -- (888,1400) -- (800,1640) -- (810,2000) -- (818,2170) -- (828,2179) -- (Sprite-m11-w);
\draw[call] (Proyectil-m1-w) -- (1020,893) -- (1010,912) -- (895,1400) -- (812,1640) -- (815,2000) -- (822,2190) -- (832,2200) -- (Sprite-m12-w);
\draw[call] (Proyectil-m2-w) -- (1018,909) -- (1008,925) -- (902,1400) -- (825,1640) -- (820,2000) -- (826,2275) -- (836,2284) -- (Sprite-m16-w);
\draw[call] (Proyectil-m2-w) -- (1022,909) -- (1014,930) -- (909,1400) -- (837,1640) -- (825,2000) -- (830,2316) -- (840,2326) -- (Sprite-m18-w);
\draw[call] (Proyectil-m2-w) -- (1026,909) -- (1020,935) -- (915,1400) -- (845,1640) -- (830,2000) -- (834,2358) -- (844,2368) -- (Sprite-m20-w);
\draw[creat] ([xshift=-16.5pt]Sprite.north) -- (1012,1410) -- (1003,893) -- (Proyectil-m1-w);
\draw[stubtip,draw=greyline] ([xshift=-16.5pt]Sprite.north) -- ++(0,-36);

% Alien fields
\draw[field] (Alien-a1-e) -- (757,1470) -- (768,1478) -- (820,1698) -- (831,1705) -- ([yshift=14pt]Sprite-a1-w);
\draw[field] (Alien-a6-e) -- (760,1575) -- (771,1584) -- (817,1764) -- (826,1769) -- ([yshift=-7pt]Sprite-a3-w);

% inheritance
\draw[extend] ([xshift=-50pt]Proyectil.south) -- (1132,964) -- (1068,1054) -- (1057,1410) -- ([xshift=16.5pt]Sprite.north);
\draw[stubtip,draw=greenline] ([xshift=-50pt]Proyectil.south) -- ++(0,14);
\draw[extend] ([yshift=8pt]Jugador-m8-w) -- (1436,1207) -- (1407,1207) -- (1018,1410) -- (889,1480) -- (762,1545) -- ([yshift=6.7pt]Alien-a5-e);
\draw[stubtip,draw=greenline] ([yshift=8pt]Jugador-m8-w) -- ++(-14,0);
\draw[extend] ([yshift=-14pt]Enemigo-a4-w) -- (1487,1508) -- (1413,1530) -- (1009,1574) -- (774,1600) -- ([yshift=-6.3pt]Alien-a7-e);
\draw[stubtip,draw=greenline] ([yshift=-14pt]Enemigo-a4-w) -- ++(-14,0);
\draw[realize] ([yshift=7pt]Enemigo-a3-w) -- (1510,1466) -- (1443,1455) -- ([yshift=5pt]Entidad.east);
\draw[stubtip,draw=blueline] ([yshift=7pt]Enemigo-a3-w) -- ++(-14,0);
\draw[realize] ([xshift=-123pt]Jugador.south) -- (1525,1280) -- (1517,1290) -- (1373,1357) -- (1367,1367) -- ([xshift=71.5pt]Entidad.north);
\draw[stubtip,draw=blueline] ([xshift=-123pt]Jugador.south) -- ++(0,14);
\end{pgfonlayer}
\end{tikzpicture}
\end{document}
